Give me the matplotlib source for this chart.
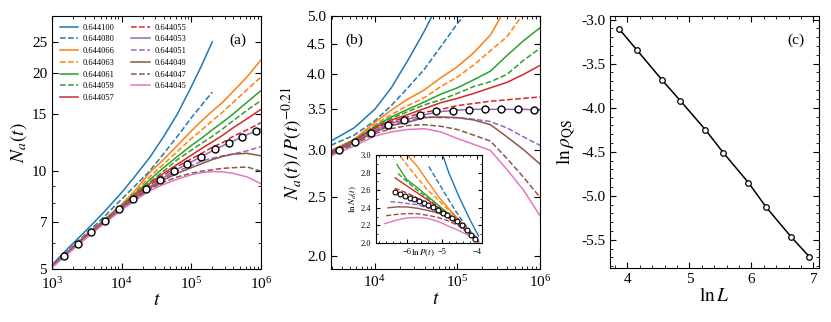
import matplotlib
matplotlib.use('Agg')
import matplotlib.pyplot as plt
import numpy as np
from matplotlib.ticker import (FixedLocator, NullLocator, NullFormatter,
                               MultipleLocator, FormatStrFormatter, LogLocator)

plt.rcParams['font.family'] = 'serif'
plt.rcParams['font.serif'] = ['Liberation Serif', 'DejaVu Serif']
plt.rcParams['mathtext.fontset'] = 'stix'
plt.rcParams['font.size'] = 11

nan = np.nan

# ---- curves: p values, colours, line styles ----
p_labels = ['0.644100', '0.644080', '0.644066', '0.644063', '0.644061',
            '0.644059', '0.644057', '0.644055', '0.644053', '0.644051',
            '0.644049', '0.644047', '0.644045']
p_colors = ['C0', 'C0', 'C1', 'C1', 'C2', 'C2', 'C3', 'C3', 'C4', 'C4',
            'C5', 'C5', 'C6']
p_styles = ['-', '--', '-', '--', '-', '--', '-', '--', '-', '--', '-', '--', '-']

# ---- panel (a): N_a(t) ----
logt_a = [3.0, 3.25, 3.5, 3.75, 4.0, 4.2, 4.4, 4.6, 4.8, 5.0, 5.15, 5.3,
          5.45, 5.6, 5.8, 6.0]
Na = [
    [5.15, 5.85, 6.6, 7.5, 8.6, 9.7, 11.0, 12.75, 15.0, 18.2, 21.2, 25.0,
     nan, nan, nan, nan],
    [5.12, 5.75, 6.45, 7.25, 8.2, 9.05, 10.0, 11.3, 12.8, 14.6, 16.0, 17.5,
     nan, nan, nan, nan],
    [5.1, 5.72, 6.4, 7.1, 7.9, 8.75, 9.9, 10.85, 12.0, 13.3, 14.3, 15.3,
     16.3, 17.6, 19.5, 22.0],
    [5.1, 5.71, 6.38, 7.08, 7.87, 8.65, 9.6, 10.5, 11.5, 12.6, 13.4, 14.3,
     15.2, 16.3, 17.8, 19.5],
    [5.1, 5.7, 6.37, 7.06, 7.84, 8.55, 9.4, 10.25, 11.1, 12.0, 12.65, 13.4,
     14.15, 15.0, 16.3, 17.7],
    [5.1, 5.7, 6.36, 7.05, 7.82, 8.5, 9.25, 10.0, 10.85, 11.6, 12.2, 12.8,
     13.5, 14.3, 15.4, 16.5],
    [5.1, 5.69, 6.35, 7.03, 7.8, 8.45, 9.15, 9.85, 10.5, 11.2, 11.75, 12.3,
     12.9, 13.6, 14.5, 15.5],
    [5.1, 5.69, 6.34, 7.02, 7.78, 8.4, 9.05, 9.7, 10.35, 10.9, 11.35, 11.85,
     12.25, 12.8, 13.4, 14.1],
    [5.1, 5.68, 6.33, 7.0, 7.76, 8.35, 8.95, 9.55, 10.15, 10.67, 11.1, 11.55,
     11.97, 12.38, 12.95, 13.5],
    [5.09, 5.67, 6.31, 6.98, 7.73, 8.31, 8.9, 9.47, 10.0, 10.4, 10.75, 10.95,
     11.15, 11.3, 11.55, 11.9],
    [5.08, 5.66, 6.3, 6.96, 7.7, 8.28, 8.85, 9.4, 9.85, 10.25, 10.55, 10.85,
     11.1, 11.28, 11.35, 11.15],
    [5.07, 5.64, 6.28, 6.93, 7.65, 8.22, 8.78, 9.25, 9.6, 9.85, 10.0, 10.1,
     10.2, 10.25, 10.3, 10.0],
    [5.05, 5.62, 6.25, 6.9, 7.6, 8.15, 8.7, 9.1, 9.45, 9.75, 9.9, 9.97,
     9.95, 9.85, 9.6, 9.15],
]
t_circles = [1.48e3, 2.33e3, 3.66e3, 5.77e3, 9.08e3, 1.43e4, 2.25e4, 3.54e4,
             5.57e4, 8.77e4, 1.38e5, 2.17e5, 3.42e5, 5.38e5, 8.47e5]
Na_circles = [5.47, 5.97, 6.50, 7.02, 7.64, 8.22, 8.81, 9.39, 10.0, 10.51,
              11.07, 11.66, 12.20, 12.75, 13.31]

# ---- panel (b): N_a(t) / P(t)^-0.21 ----
logt_b = [3.47, 3.75, 4.0, 4.2, 4.4, 4.6, 4.8, 5.0, 5.2, 5.4, 5.6, 5.8, 6.0]
Nb = [
    [3.10, 3.26, 3.50, 3.80, 4.22, 4.72, 5.35, nan, nan, nan, nan, nan, nan],
    [3.05, 3.17, 3.35, 3.55, 3.80, 4.08, 4.45, 4.86, 5.24, nan, nan, nan, nan],
    [2.99, 3.12, 3.33, 3.49, 3.64, 3.77, 3.95, 4.12, 4.35, 4.65, 5.2, nan, nan],
    [2.98, 3.11, 3.30, 3.43, 3.55, 3.66, 3.82, 3.96, 4.15, 4.38, 4.62, 5.05, nan],
    [2.98, 3.11, 3.28, 3.40, 3.50, 3.60, 3.71, 3.80, 3.92, 4.05, 4.30, 4.55, 4.78],
    [2.97, 3.10, 3.27, 3.38, 3.47, 3.56, 3.63, 3.72, 3.82, 3.89, 4.0, 4.22, 4.42],
    [2.97, 3.10, 3.26, 3.36, 3.43, 3.51, 3.59, 3.65, 3.72, 3.80, 3.88, 4.0, 4.14],
    [2.96, 3.10, 3.25, 3.34, 3.40, 3.46, 3.50, 3.55, 3.58, 3.61, 3.63, 3.65, 3.67],
    [2.96, 3.09, 3.23, 3.32, 3.37, 3.43, 3.47, 3.49, 3.50, 3.50, 3.50, 3.50, 3.49],
    [2.95, 3.08, 3.22, 3.30, 3.35, 3.40, 3.39, 3.39, 3.37, 3.34, 3.26, 3.15, 3.05],
    [2.95, 3.08, 3.21, 3.29, 3.33, 3.39, 3.40, 3.39, 3.36, 3.30, 3.15, 3.0, 2.84],
    [2.94, 3.06, 3.19, 3.25, 3.29, 3.30, 3.28, 3.24, 3.17, 3.10, 2.90, 2.70, 2.50],
    [2.93, 3.04, 3.16, 3.21, 3.24, 3.25, 3.21, 3.13, 3.06, 2.99, 2.78, 2.57, 2.33],
]
Nb_circles = [3.00, 3.09, 3.20, 3.30, 3.36, 3.42, 3.48, 3.48, 3.49, 3.50,
              3.50, 3.50, 3.49]   # at t_circles[2:]

# ---- inset: ln N_a vs ln P ----
lnP0 = [-5.1, -5.37, -6.05, -6.17, -6.28, -6.25, -6.33, -6.35, -6.38, -6.47,
        -6.54, -6.59, -6.63]
lnN0 = [3.15, 2.87, 3.05, 2.98, 2.89, 2.79, 2.74, 2.62, 2.59, 2.47,
        2.40, 2.31, 2.22]
lnP_grid = [-6.3, -6.0, -5.7, -5.4, -5.1, -4.8, -4.5, -4.2, -3.95]
lnN = [
    [nan, nan, nan, nan, nan, 2.80, 2.52, 2.27, 2.08],
    [nan, nan, nan, nan, 2.69, 2.49, 2.30, 2.14, 2.04],
    [nan, 3.01, 2.87, 2.70, 2.53, 2.39, 2.26, 2.13, 2.02],
    [nan, 2.89, 2.74, 2.60, 2.49, 2.37, 2.25, 2.13, 2.02],
    [nan, 2.72, 2.63, 2.53, 2.43, 2.33, 2.23, 2.12, 2.02],
    [nan, 2.70, 2.60, 2.51, 2.41, 2.32, 2.22, 2.12, 2.02],
    [2.73, 2.65, 2.57, 2.49, 2.40, 2.31, 2.21, 2.11, 2.02],
    [2.615, 2.57, 2.51, 2.45, 2.37, 2.29, 2.20, 2.10, 2.02],
    [2.578, 2.528, 2.483, 2.433, 2.372, 2.31, 2.23, 2.11, 2.01],
    [2.465, 2.45, 2.435, 2.40, 2.35, 2.285, 2.21, 2.11, 2.01],
    [2.41, 2.41, 2.395, 2.37, 2.34, 2.29, 2.21, 2.11, 2.01],
    [2.325, 2.335, 2.333, 2.315, 2.29, 2.25, 2.19, 2.10, 2.01],
    [2.26, 2.285, 2.29, 2.28, 2.245, 2.19, 2.14, 2.08, 2.005],
]
lnP_circles = [-6.33, -6.19, -6.04, -5.92, -5.79, -5.66, -5.52, -5.39, -5.25,
               -5.12, -4.97, -4.85, -4.71, -4.57, -4.42, -4.28, -4.16, -4.06]
lnN_circles = [2.583, 2.557, 2.534, 2.515, 2.496, 2.477, 2.451, 2.432, 2.405,
               2.375, 2.345, 2.318, 2.288, 2.25, 2.205, 2.148, 2.091, 2.042]

# ---- panel (c) ----
L = [48, 64, 96, 128, 192, 256, 384, 512, 768, 1024]
ln_rho_qs = [-3.11, -3.35, -3.69, -3.92, -4.25, -4.51, -4.85, -5.13, -5.47, -5.69]


def style_ticks(ax, size=11):
    ax.tick_params(which='both', direction='in', top=True, right=True,
                   labelsize=size)
    ax.tick_params(which='major', length=4, width=0.8)
    ax.tick_params(which='minor', length=2, width=0.6)


fig = plt.figure(figsize=(8.31, 3.22), dpi=100)
ax_a = fig.add_axes([0.0626, 0.1646, 0.2515, 0.7854])
ax_b = fig.add_axes([0.3983, 0.1646, 0.2515, 0.7854])
ax_c = fig.add_axes([0.7341, 0.1677, 0.2515, 0.7823])
ax_in = fig.add_axes([0.4525, 0.2453, 0.1275, 0.2733])

circ = dict(marker='o', ls='none', mfc='white', mec='black', zorder=5)

# (a)
ta = 10 ** np.array(logt_a)
for y, c, s, lab in zip(Na, p_colors, p_styles, p_labels):
    ax_a.plot(ta, y, color=c, ls=s, lw=1.1, label=lab)
ax_a.plot(t_circles, Na_circles, ms=5, mew=1.0, **circ)
ax_a.set_xscale('log')
ax_a.set_yscale('log')
ax_a.set_xlim(1e3, 1e6)
ax_a.set_ylim(5, 30)
ax_a.yaxis.set_major_locator(FixedLocator([5, 7, 10, 15, 20, 25]))
ax_a.yaxis.set_major_formatter(FormatStrFormatter('%d'))
ax_a.yaxis.set_minor_formatter(NullFormatter())
ax_a.xaxis.set_minor_locator(LogLocator(subs=np.arange(2, 10)))
style_ticks(ax_a)
ax_a.tick_params(axis='x', which='major', pad=5)
ax_a.set_xlabel('$t$', fontsize=14, labelpad=0)
ax_a.set_ylabel('$N_a(t)$', fontsize=14, labelpad=2)
ax_a.legend(ncol=2, fontsize=6, frameon=False, loc='upper left',
            handlelength=2.2, columnspacing=2.0, labelspacing=0.45,
            handletextpad=0.6)
ax_a.text(0.93, 0.93, '(a)', transform=ax_a.transAxes, ha='right', va='top')

# (b)
tb = 10 ** np.array(logt_b)
for y, c, s in zip(Nb, p_colors, p_styles):
    ax_b.plot(tb, y, color=c, ls=s, lw=1.1)
ax_b.plot(t_circles[2:], Nb_circles, ms=5, mew=1.0, **circ)
ax_b.set_xscale('log')
ax_b.set_yscale('log')
ax_b.set_xlim(10 ** 3.47, 1e6)
ax_b.set_ylim(1.9, 5.0)
ax_b.yaxis.set_major_locator(FixedLocator([2.0, 2.5, 3.0, 3.5, 4.0, 4.5, 5.0]))
ax_b.yaxis.set_major_formatter(FormatStrFormatter('%.1f'))
ax_b.yaxis.set_minor_locator(NullLocator())
ax_b.xaxis.set_minor_locator(LogLocator(subs=np.arange(2, 10)))
style_ticks(ax_b)
ax_b.set_xlabel('$t$', fontsize=14, labelpad=1)
ax_b.set_ylabel('$N_a(t)\\,/\\,P(t)^{-0.21}$', fontsize=14, labelpad=2)
ax_b.text(0.07, 0.93, '(b)', transform=ax_b.transAxes, ha='left', va='top')

# inset
ax_in.set_zorder(10)
ax_in.set_facecolor('white')
for p0, n0, y, c, s in zip(lnP0, lnN0, lnN, p_colors, p_styles):
    xs = [p0] + [g for g, v in zip(lnP_grid, y) if not np.isnan(v) and g > p0]
    ys = [n0] + [v for g, v in zip(lnP_grid, y) if not np.isnan(v) and g > p0]
    ax_in.plot(xs, ys, color=c, ls=s, lw=1.0)
ax_in.plot(lnP_circles, lnN_circles, ms=3.5, mew=0.8, **circ)
ax_in.set_xlim(-6.88, -3.85)
ax_in.set_ylim(2.0, 3.0)
ax_in.xaxis.set_major_locator(MultipleLocator(1))
ax_in.xaxis.set_minor_locator(MultipleLocator(0.2))
ax_in.yaxis.set_major_locator(MultipleLocator(0.2))
ax_in.yaxis.set_minor_locator(MultipleLocator(0.1))
ax_in.yaxis.set_major_formatter(FormatStrFormatter('%.1f'))
style_ticks(ax_in, size=6)
ax_in.tick_params(which='major', length=3)
ax_in.tick_params(which='minor', length=1.5)
ax_in.set_xlabel('$\\ln P(t)$', fontsize=6.5)
ax_in.xaxis.set_label_coords(0.44, -0.06, transform=ax_in.transAxes)
ax_in.xaxis.label.set_va('top')
ax_in.set_ylabel('$\\ln N_a(t)$', fontsize=6.5, labelpad=1)

# (c)
ax_c.plot(np.log(L), ln_rho_qs, color='black', lw=1.1, marker='o', ms=4,
          mfc='white', mec='black', mew=0.9)
ax_c.set_xlim(3.72, 7.09)
ax_c.set_ylim(-5.82, -2.96)
ax_c.xaxis.set_major_locator(MultipleLocator(1))
ax_c.xaxis.set_minor_locator(MultipleLocator(0.2))
ax_c.yaxis.set_major_locator(MultipleLocator(0.5))
ax_c.yaxis.set_minor_locator(MultipleLocator(0.1))
ax_c.yaxis.set_major_formatter(FormatStrFormatter('%.1f'))
style_ticks(ax_c)
ax_c.set_xlabel('$\\ln L$', fontsize=14, labelpad=1)
ax_c.set_ylabel('$\\ln\\rho_{\\rm QS}$', fontsize=14, labelpad=2)
ax_c.text(0.93, 0.93, '(c)', transform=ax_c.transAxes, ha='right', va='top')

fig.savefig('out.png', dpi=100)
